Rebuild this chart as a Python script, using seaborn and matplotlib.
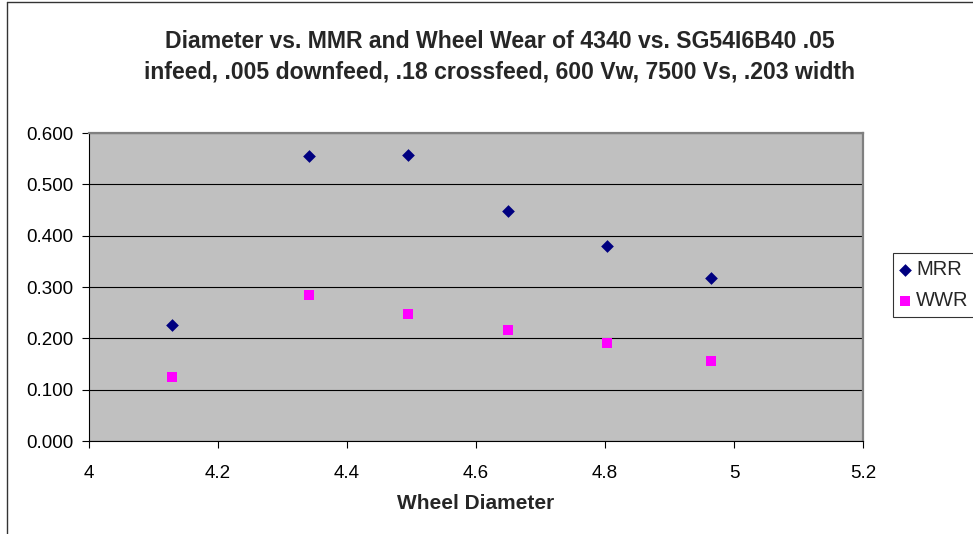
import matplotlib
matplotlib.use("Agg")
import matplotlib.pyplot as plt
from matplotlib.lines import Line2D
import seaborn as sns
import pandas as pd

# Wheel diameter (in) and measured rates
diameter = [4.129, 4.341, 4.495, 4.650, 4.803, 4.964]
mrr = [0.226, 0.555, 0.557, 0.449, 0.380, 0.317]
wwr = [0.124, 0.284, 0.248, 0.217, 0.191, 0.156]
series_names = ["MRR", "WWR"]
y_ticks = [0.0, 0.1, 0.2, 0.3, 0.4, 0.5, 0.6]
x_ticks = [4.0, 4.2, 4.4, 4.6, 4.8, 5.0, 5.2]
x_tick_labels = ["4", "4.2", "4.4", "4.6", "4.8", "5", "5.2"]

df = pd.concat([
    pd.DataFrame({"Diameter": diameter, "Rate": mrr, "Series": series_names[0]}),
    pd.DataFrame({"Diameter": diameter, "Rate": wwr, "Series": series_names[1]}),
], ignore_index=True)

sns.set_theme(style="white")
plt.rcParams["font.family"] = ["Liberation Sans", "DejaVu Sans"]

W, H = 973, 534
fig = plt.figure(figsize=(W / 100, H / 100), dpi=100)
fig.patch.set_facecolor("white")

# plot area in pixel coordinates
left, right, top, bottom = 89, 863, 133, 441
ax = fig.add_axes([left / W, 1 - bottom / H, (right - left) / W, (bottom - top) / H])
ax.set_facecolor("#C0C0C0")

palette = {"MRR": "#000080", "WWR": "#FF00FF"}
markers = {"MRR": "D", "WWR": "s"}
sizes = {"MRR": 42, "WWR": 50}
for name in series_names:
    sub = df[df["Series"] == name]
    sns.scatterplot(data=sub, x="Diameter", y="Rate", ax=ax, color=palette[name],
                    marker=markers[name], s=sizes[name], linewidth=0, zorder=3,
                    label=name, legend=False)

ax.set_xlim(4.0, 5.2)
ax.set_ylim(0.0, 0.6)
ax.set_xticks(x_ticks)
ax.set_xticklabels(x_tick_labels)
ax.set_yticks(y_ticks)
ax.set_yticklabels([f"{v:.3f}" for v in y_ticks])
ax.yaxis.grid(True, color="black", linewidth=0.8)
ax.xaxis.grid(False)
ax.set_axisbelow(True)

for side in ["top", "right"]:
    ax.spines[side].set_color("#808080")
    ax.spines[side].set_linewidth(1.6)
for side in ["left", "bottom"]:
    ax.spines[side].set_color("black")
    ax.spines[side].set_linewidth(0.8)

ax.tick_params(axis="both", direction="out", length=5, width=0.8, color="black",
               labelsize=13.5, labelcolor="black")
ax.tick_params(axis="y", pad=6, left=True)
ax.tick_params(axis="x", pad=12, bottom=True)

ax.set_xlabel("Wheel Diameter", fontsize=15, fontweight="bold", labelpad=9)
ax.set_ylabel("")

fig.text(500 / W, 1 - 42 / H, "Diameter vs. MMR and Wheel Wear of 4340 vs. SG54I6B40 .05",
         ha="center", va="center", fontsize=16.6, fontweight="bold")
fig.text(500 / W, 1 - 72 / H, "infeed, .005 downfeed, .18 crossfeed, 600 Vw, 7500 Vs, .203 width",
         ha="center", va="center", fontsize=16.6, fontweight="bold")

# chart area frame
fig.add_artist(Line2D([6.5 / W, 6.5 / W], [0, 1 - 1.5 / H], color="#333333", lw=1.0,
                      transform=fig.transFigure))
fig.add_artist(Line2D([6.5 / W, 1], [1 - 1.5 / H, 1 - 1.5 / H], color="#333333", lw=1.0,
                      transform=fig.transFigure))

handles, labels = ax.get_legend_handles_labels()
leg = fig.legend(handles, labels, loc="upper left",
                 bbox_to_anchor=(893 / W, 1 - 253 / H), bbox_transform=fig.transFigure,
                 frameon=True, fancybox=False, fontsize=14.5, handlelength=0.5,
                 handletextpad=0.3, borderpad=0.35, labelspacing=0.6, borderaxespad=0)
leg.get_frame().set_edgecolor("black")
leg.get_frame().set_linewidth(0.8)
leg.get_frame().set_facecolor("white")

fig.savefig("out.png", dpi=100, facecolor="white")
